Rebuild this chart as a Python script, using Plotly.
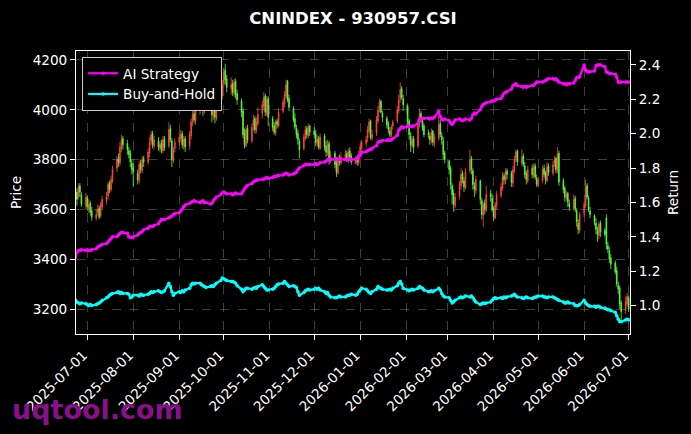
import pandas as pd
import plotly.graph_objects as go
from plotly.subplots import make_subplots

# Trading days (Mon-Fri)
dates = pd.bdate_range("2025-06-23", "2026-07-01")

open_ = [
    3640, 3670, 3650, 3695, 3660,
    3615, 3645, 3600, 3625, 3595,
    3565, 3590, 3605, 3575, 3610,
    3635, 3655, 3705, 3680, 3715,
    3765, 3805, 3785, 3845, 3885,
    3865, 3835, 3825, 3785, 3765,
    3745, 3715, 3785, 3755, 3805,
    3790, 3825, 3875, 3905, 3855,
    3875, 3845, 3865, 3835, 3885,
    3855, 3925, 3875, 3795, 3845,
    3870, 3885, 3905, 3855, 3885,
    3855, 3895, 3955, 3985, 3955,
    4000, 4015, 4055, 3995, 4065,
    4075, 4025, 3975, 4005, 3965,
    4025, 4055, 4105, 4160, 4125,
    4085, 4105, 4065, 4115, 4065,
    4035, 3995, 3905, 3855, 3925,
    3875, 3935, 3965, 3915, 3945,
    3985, 4015, 4055, 3985, 4045,
    3965, 3935, 3905, 3955, 3935,
    3995, 4025, 4055, 4115, 4045,
    4005, 3965, 3925, 3905, 3875,
    3845, 3885, 3925, 3895, 3935,
    3915, 3905, 3865, 3885, 3845,
    3895, 3855, 3825, 3865, 3795,
    3825, 3785, 3745, 3805, 3785,
    3805, 3825, 3795, 3835, 3815,
    3785, 3805, 3785, 3815, 3845,
    3865, 3885, 3915, 3955, 3885,
    3905, 3955, 4005, 4035, 3985,
    3965, 3945, 3915, 3895, 3935,
    3955, 3995, 4045, 4085, 4045,
    4015, 3955, 3895, 3855, 3885,
    3855, 3945, 3985, 3955, 3935,
    3905, 3895, 3875, 3915, 3865,
    3885, 3945, 3895, 3875, 3825,
    3795, 3765, 3695, 3665, 3615,
    3655, 3695, 3745, 3715, 3685,
    3755, 3805, 3755, 3695, 3675,
    3715, 3635, 3575, 3625, 3595,
    3665, 3645, 3605, 3565, 3615,
    3655, 3685, 3735, 3715, 3755,
    3745, 3705, 3755, 3805, 3835,
    3785, 3815, 3775, 3745, 3715,
    3765, 3735, 3775, 3725, 3695,
    3715, 3765, 3745, 3715, 3775,
    3745, 3785, 3805, 3755, 3825,
    3715, 3685, 3645, 3665, 3625,
    3605, 3645, 3595, 3545, 3515,
    3585, 3615, 3695, 3645, 3595,
    3575, 3545, 3515, 3495, 3545,
    3515, 3565, 3455, 3435, 3405,
    3385, 3355, 3295, 3285, 3225,
    3195, 3220, 3245,
]

high = [
    3690, 3685, 3705, 3705, 3670,
    3665, 3655, 3640, 3635, 3610,
    3600, 3620, 3615, 3630, 3655,
    3670, 3710, 3715, 3735, 3775,
    3815, 3825, 3870, 3900, 3895,
    3880, 3850, 3840, 3800, 3785,
    3760, 3795, 3800, 3815, 3815,
    3845, 3890, 3915, 3915, 3895,
    3890, 3875, 3880, 3895, 3895,
    3950, 3940, 3885, 3850, 3885,
    3910, 3920, 3915, 3895, 3895,
    3915, 3965, 3995, 3995, 4015,
    4040, 4070, 4065, 4075, 4105,
    4085, 4040, 4015, 4015, 4045,
    4075, 4120, 4170, 4185, 4140,
    4130, 4120, 4125, 4125, 4080,
    4045, 4005, 3925, 3935, 3940,
    3945, 3980, 3975, 3970, 4010,
    4035, 4070, 4065, 4055, 4055,
    3975, 3950, 3960, 3965, 4005,
    4045, 4075, 4120, 4120, 4060,
    4015, 3985, 3940, 3920, 3885,
    3905, 3935, 3935, 3945, 3940,
    3930, 3920, 3900, 3895, 3905,
    3905, 3875, 3880, 3875, 3835,
    3835, 3800, 3815, 3820, 3830,
    3840, 3835, 3845, 3850, 3825,
    3815, 3820, 3835, 3865, 3880,
    3895, 3935, 3965, 3960, 3920,
    3975, 4015, 4045, 4040, 3995,
    3975, 3955, 3930, 3940, 3960,
    4015, 4060, 4110, 4095, 4060,
    4025, 3965, 3910, 3895, 3895,
    3965, 4005, 3995, 3965, 3945,
    3920, 3910, 3925, 3920, 3905,
    3980, 3960, 3910, 3890, 3835,
    3800, 3775, 3705, 3680, 3665,
    3715, 3765, 3755, 3730, 3765,
    3840, 3815, 3765, 3710, 3735,
    3720, 3645, 3630, 3640, 3695,
    3680, 3660, 3615, 3630, 3675,
    3705, 3750, 3745, 3765, 3765,
    3755, 3775, 3815, 3840, 3840,
    3840, 3825, 3790, 3755, 3775,
    3780, 3785, 3785, 3740, 3730,
    3775, 3780, 3755, 3790, 3785,
    3795, 3815, 3810, 3850, 3835,
    3725, 3695, 3675, 3670, 3640,
    3660, 3655, 3605, 3560, 3590,
    3630, 3720, 3705, 3655, 3610,
    3580, 3565, 3530, 3550, 3555,
    3525, 3580, 3470, 3450, 3420,
    3395, 3370, 3310, 3295, 3235,
    3250, 3265, 3255,
]

low = [
    3625, 3615, 3640, 3650, 3610,
    3600, 3595, 3585, 3575, 3555,
    3555, 3575, 3560, 3565, 3600,
    3620, 3640, 3665, 3670, 3705,
    3750, 3770, 3775, 3830, 3840,
    3820, 3805, 3770, 3740, 3690,
    3700, 3705, 3745, 3745, 3770,
    3780, 3810, 3860, 3845, 3840,
    3835, 3830, 3825, 3825, 3835,
    3845, 3870, 3770, 3785, 3830,
    3855, 3870, 3845, 3840, 3830,
    3840, 3880, 3935, 3945, 3940,
    3980, 3995, 3975, 3985, 4040,
    4005, 3950, 3960, 3945, 3955,
    4010, 4040, 4090, 4100, 4070,
    4060, 4055, 4050, 4045, 4020,
    3970, 3885, 3845, 3850, 3865,
    3865, 3915, 3905, 3905, 3935,
    3965, 4000, 3975, 3975, 3935,
    3915, 3900, 3895, 3925, 3930,
    3985, 4010, 4045, 4030, 3995,
    3950, 3920, 3885, 3860, 3805,
    3835, 3875, 3885, 3885, 3895,
    3885, 3855, 3850, 3840, 3840,
    3835, 3810, 3815, 3780, 3785,
    3765, 3730, 3740, 3775, 3780,
    3795, 3790, 3785, 3800, 3780,
    3780, 3775, 3775, 3810, 3835,
    3850, 3870, 3905, 3880, 3875,
    3895, 3945, 3990, 3985, 3950,
    3925, 3905, 3890, 3890, 3920,
    3945, 3985, 4030, 4040, 3995,
    3935, 3880, 3830, 3845, 3825,
    3845, 3930, 3950, 3915, 3890,
    3885, 3860, 3865, 3855, 3850,
    3875, 3890, 3860, 3800, 3785,
    3740, 3680, 3620, 3590, 3605,
    3640, 3680, 3705, 3670, 3680,
    3745, 3740, 3680, 3650, 3660,
    3620, 3560, 3530, 3580, 3590,
    3630, 3590, 3555, 3560, 3600,
    3645, 3675, 3700, 3700, 3720,
    3690, 3690, 3745, 3790, 3775,
    3775, 3770, 3725, 3700, 3705,
    3725, 3725, 3720, 3690, 3690,
    3705, 3730, 3700, 3710, 3735,
    3735, 3770, 3745, 3745, 3695,
    3665, 3630, 3635, 3610, 3595,
    3595, 3590, 3530, 3500, 3505,
    3570, 3605, 3640, 3590, 3565,
    3535, 3500, 3470, 3480, 3490,
    3490, 3440, 3425, 3385, 3360,
    3340, 3290, 3260, 3200, 3155,
    3180, 3210, 3190,
]

close = [
    3660, 3640, 3690, 3670, 3620,
    3650, 3610, 3620, 3590, 3570,
    3580, 3600, 3570, 3620, 3640,
    3650, 3700, 3680, 3720, 3760,
    3800, 3790, 3850, 3880, 3860,
    3840, 3820, 3790, 3760, 3750,
    3720, 3780, 3760, 3800, 3790,
    3830, 3870, 3900, 3860, 3880,
    3850, 3860, 3840, 3880, 3850,
    3920, 3880, 3800, 3840, 3870,
    3890, 3900, 3860, 3880, 3850,
    3900, 3950, 3980, 3960, 4000,
    4010, 4050, 4000, 4060, 4080,
    4020, 3980, 4000, 3970, 4030,
    4060, 4100, 4150, 4120, 4090,
    4100, 4070, 4110, 4060, 4040,
    3990, 3900, 3860, 3920, 3880,
    3930, 3960, 3920, 3950, 3980,
    4020, 4050, 3990, 4040, 3970,
    3930, 3910, 3950, 3940, 3990,
    4030, 4060, 4100, 4040, 4010,
    3960, 3930, 3900, 3880, 3840,
    3890, 3920, 3900, 3930, 3910,
    3900, 3870, 3880, 3850, 3890,
    3850, 3830, 3860, 3800, 3820,
    3780, 3750, 3800, 3790, 3810,
    3820, 3800, 3830, 3810, 3790,
    3800, 3790, 3820, 3850, 3870,
    3880, 3920, 3950, 3890, 3900,
    3960, 4000, 4030, 3990, 3970,
    3940, 3920, 3900, 3930, 3950,
    4000, 4040, 4080, 4050, 4020,
    3950, 3900, 3860, 3880, 3850,
    3950, 3980, 3960, 3930, 3900,
    3900, 3880, 3910, 3870, 3890,
    3940, 3900, 3880, 3820, 3800,
    3760, 3700, 3660, 3620, 3650,
    3700, 3740, 3720, 3690, 3750,
    3800, 3760, 3700, 3680, 3720,
    3640, 3580, 3620, 3600, 3660,
    3650, 3600, 3570, 3620, 3660,
    3690, 3730, 3720, 3750, 3740,
    3710, 3760, 3800, 3830, 3790,
    3810, 3780, 3740, 3720, 3760,
    3740, 3770, 3730, 3700, 3720,
    3760, 3740, 3720, 3770, 3750,
    3780, 3800, 3760, 3820, 3710,
    3680, 3650, 3660, 3630, 3610,
    3640, 3600, 3550, 3520, 3580,
    3620, 3690, 3650, 3600, 3580,
    3550, 3520, 3500, 3540, 3510,
    3500, 3460, 3440, 3400, 3380,
    3350, 3300, 3280, 3220, 3190,
    3230, 3250, 3200,
]

ai_strategy = [
    1.28, 1.31, 1.32, 1.32, 1.325,
    1.32, 1.325, 1.32, 1.32, 1.325,
    1.33, 1.34, 1.345, 1.35, 1.355,
    1.36, 1.37, 1.38, 1.39, 1.40,
    1.40, 1.41, 1.42, 1.425, 1.425,
    1.42, 1.40, 1.395, 1.395, 1.40,
    1.41, 1.42, 1.425, 1.43, 1.44,
    1.45, 1.46, 1.46, 1.46, 1.465,
    1.475, 1.49, 1.50, 1.50, 1.50,
    1.51, 1.515, 1.52, 1.53, 1.535,
    1.54, 1.55, 1.56, 1.575, 1.585,
    1.595, 1.60, 1.605, 1.61, 1.605,
    1.60, 1.605, 1.61, 1.60, 1.60,
    1.59, 1.595, 1.61, 1.62, 1.63,
    1.645, 1.655, 1.66, 1.655, 1.65,
    1.65, 1.645, 1.65, 1.655, 1.65,
    1.65, 1.665, 1.68, 1.69, 1.70,
    1.71, 1.72, 1.725, 1.73, 1.73,
    1.735, 1.735, 1.74, 1.745, 1.74,
    1.745, 1.75, 1.75, 1.755, 1.755,
    1.76, 1.765, 1.77, 1.765, 1.76,
    1.765, 1.77, 1.775, 1.79, 1.80,
    1.815, 1.82, 1.82, 1.82, 1.82,
    1.82, 1.825, 1.82, 1.825, 1.83,
    1.835, 1.84, 1.85, 1.845, 1.85,
    1.85, 1.855, 1.85, 1.85, 1.85,
    1.85, 1.85, 1.855, 1.85, 1.85,
    1.85, 1.855, 1.86, 1.875, 1.89,
    1.895, 1.90, 1.905, 1.91, 1.91,
    1.93, 1.95, 1.955, 1.955, 1.96,
    1.96, 1.965, 1.96, 1.965, 1.97,
    1.99, 2.02, 2.03, 2.04, 2.035,
    2.04, 2.04, 2.045, 2.04, 2.045,
    2.06, 2.08, 2.085, 2.09, 2.09,
    2.09, 2.085, 2.09, 2.09, 2.095,
    2.13, 2.10, 2.085, 2.08, 2.085,
    2.075, 2.06, 2.055, 2.065, 2.08,
    2.085, 2.08, 2.075, 2.08, 2.085,
    2.08, 2.09, 2.11, 2.12, 2.115,
    2.14, 2.16, 2.17, 2.175, 2.18,
    2.185, 2.19, 2.19, 2.195, 2.20,
    2.205, 2.22, 2.235, 2.24, 2.245,
    2.26, 2.28, 2.285, 2.29, 2.28,
    2.275, 2.27, 2.275, 2.27, 2.275,
    2.28, 2.28, 2.29, 2.30, 2.30,
    2.30, 2.305, 2.31, 2.315, 2.32,
    2.32, 2.315, 2.32, 2.31, 2.30,
    2.29, 2.29, 2.285, 2.29, 2.29,
    2.295, 2.31, 2.325, 2.33, 2.33,
    2.40, 2.37, 2.36, 2.36, 2.36,
    2.365, 2.395, 2.40, 2.40, 2.40,
    2.39, 2.36, 2.355, 2.35, 2.35,
    2.345, 2.33, 2.30, 2.30, 2.30,
    2.30, 2.30, 2.30,
]

buy_and_hold = [
    1.03, 1.02, 1.015, 1.01, 1.015,
    1.01, 1.005, 1.0, 1.005, 1.0,
    1.005, 1.01, 1.015, 1.02, 1.03,
    1.045, 1.05, 1.06, 1.065, 1.07,
    1.075, 1.08, 1.07, 1.075, 1.07,
    1.07, 1.065, 1.045, 1.05, 1.06,
    1.06, 1.055, 1.065, 1.06, 1.06,
    1.065, 1.07, 1.08, 1.075, 1.08,
    1.085, 1.08, 1.075, 1.08, 1.085,
    1.13, 1.11, 1.08, 1.06, 1.07,
    1.08, 1.075, 1.085, 1.08, 1.09,
    1.10, 1.12, 1.13, 1.125, 1.13,
    1.13, 1.12, 1.115, 1.11, 1.105,
    1.11, 1.115, 1.11, 1.12, 1.13,
    1.145, 1.16, 1.155, 1.15, 1.145,
    1.14, 1.14, 1.135, 1.13, 1.115,
    1.095, 1.08, 1.09, 1.10, 1.10,
    1.095, 1.10, 1.105, 1.10, 1.11,
    1.12, 1.11, 1.10, 1.09, 1.09,
    1.095, 1.10, 1.11, 1.12, 1.125,
    1.13, 1.14, 1.13, 1.12, 1.11,
    1.115, 1.11, 1.105, 1.08, 1.06,
    1.075, 1.085, 1.09, 1.095, 1.09,
    1.095, 1.10, 1.095, 1.10, 1.09,
    1.08, 1.07, 1.075, 1.06, 1.05,
    1.045, 1.045, 1.05, 1.055, 1.05,
    1.05, 1.055, 1.06, 1.06, 1.065,
    1.06, 1.065, 1.08, 1.09, 1.10,
    1.095, 1.085, 1.075, 1.07, 1.08,
    1.095, 1.11, 1.105, 1.10, 1.095,
    1.09, 1.09, 1.095, 1.09, 1.10,
    1.115, 1.13, 1.14, 1.125, 1.10,
    1.09, 1.085, 1.09, 1.095, 1.09,
    1.10, 1.11, 1.105, 1.10, 1.09,
    1.08, 1.08, 1.085, 1.08, 1.085,
    1.10, 1.09, 1.07, 1.055, 1.05,
    1.045, 1.03, 1.015, 1.02, 1.03,
    1.045, 1.05, 1.045, 1.05, 1.055,
    1.05, 1.055, 1.045, 1.03, 1.02,
    1.005, 1.01, 1.015, 1.012, 1.015,
    1.02, 1.03, 1.04, 1.045, 1.04,
    1.045, 1.04, 1.05, 1.045, 1.05,
    1.055, 1.06, 1.065, 1.055, 1.05,
    1.045, 1.04, 1.045, 1.05, 1.045,
    1.04, 1.045, 1.05, 1.05, 1.055,
    1.055, 1.05, 1.05, 1.045, 1.05,
    1.05, 1.045, 1.04, 1.035, 1.03,
    1.02, 1.015, 1.015, 1.02, 1.015,
    1.01, 1.0, 0.998, 1.0, 1.005,
    1.03, 1.015, 1.005, 1.0, 0.995,
    0.995, 0.99, 0.995, 0.995, 0.99,
    0.985, 0.98, 0.975, 0.975, 0.97,
    0.96, 0.94, 0.92, 0.907, 0.905,
    0.915, 0.92, 0.917,
]

month_ticks = pd.date_range("2025-07-01", "2026-07-01", freq="MS")

FONT = "DejaVu Sans"
WHITE = "#ffffff"
FS = 13.6

fig = make_subplots(specs=[[{"secondary_y": True}]])

fig.add_trace(go.Candlestick(
    x=dates, open=open_, high=high, low=low, close=close,
    increasing=dict(line=dict(color="#ff4a3d", width=0.8), fillcolor="#ff4a3d"),
    decreasing=dict(line=dict(color="#5cff3a", width=0.8), fillcolor="#5cff3a"),
    whiskerwidth=0,
    showlegend=False, hoverinfo="skip", name="Price",
), secondary_y=False)

fig.add_trace(go.Scatter(
    x=dates, y=ai_strategy, mode="lines+markers", name="AI Strategy",
    line=dict(color="#ff00ff", width=2.2), marker=dict(size=3.5, color="#ff00ff"),
), secondary_y=True)

fig.add_trace(go.Scatter(
    x=dates, y=buy_and_hold, mode="lines+markers", name="Buy-and-Hold",
    line=dict(color="#00ffff", width=2.2), marker=dict(size=3.5, color="#00ffff"),
), secondary_y=True)

fig.update_layout(
    width=691, height=434,
    margin=dict(l=76, r=61, t=51, b=100, autoexpand=False),
    paper_bgcolor="#000000", plot_bgcolor="#000000",
    font=dict(family=FONT, size=FS, color=WHITE),
    title=dict(text="<b>CNINDEX - 930957.CSI</b>", x=0.5, xref="paper",
               y=1 - 18 / 434, yref="container", xanchor="center", yanchor="middle",
               font=dict(family=FONT, size=16.5, color=WHITE)),
    showlegend=True,
    legend=dict(x=0.011, y=0.979, xanchor="left", yanchor="top",
                bgcolor="#000000", bordercolor="#cccccc", borderwidth=1,
                font=dict(family=FONT, size=FS, color=WHITE),
                itemwidth=30, tracegroupgap=2),
    xaxis=dict(
        domain=[0, 1],
        type="date", range=["2025-06-23 09:00", "2026-07-01 22:30"],
        rangeslider=dict(visible=False),
        tickvals=month_ticks, tickformat="%Y-%m-%d", tickangle=-45,
        ticks="outside", ticklen=5, tickcolor=WHITE, tickwidth=1,
        ticklabelshift=-4, ticklabelstandoff=2,
        showline=True, linecolor=WHITE, linewidth=1, mirror=True,
        showgrid=True, gridcolor="rgba(140,140,140,0.45)", griddash="dash", gridwidth=0.7,
        zeroline=False, tickfont=dict(size=FS, color=WHITE), automargin=False,
    ),
    yaxis=dict(
        range=[3099.7, 4236], tickvals=[3200, 3400, 3600, 3800, 4000, 4200],
        ticks="outside", ticklen=5, tickcolor=WHITE, tickwidth=1,
        showline=True, linecolor=WHITE, linewidth=1,
        showgrid=True, gridcolor="rgba(140,140,140,0.45)", griddash="dash", gridwidth=0.7,
        zeroline=False, tickfont=dict(size=FS, color=WHITE),
        title=dict(text="Price", standoff=7, font=dict(size=FS)),
        automargin=False,
    ),
    yaxis2=dict(
        range=[0.834, 2.481], tickvals=[1.0, 1.2, 1.4, 1.6, 1.8, 2.0, 2.2, 2.4],
        tickformat=".1f",
        ticks="outside", ticklen=5, tickcolor=WHITE, tickwidth=1,
        showline=True, linecolor=WHITE, linewidth=1,
        showgrid=False, zeroline=False, tickfont=dict(size=FS, color=WHITE),
        title=dict(text="Return", standoff=9, font=dict(size=FS)),
        automargin=False,
    ),
)

fig.add_annotation(
    text="<b>uqtool.com</b>", xref="paper", yref="paper",
    x=(10 - 76) / 554, y=(334 - 409) / 283, xanchor="left", yanchor="middle",
    showarrow=False, font=dict(family=FONT, size=27, color="#8a0f8a"),
)

page_fix = (
    "document.body.style.margin='0';"
    "document.body.style.padding='0';"
    "document.body.style.overflow='hidden';"
    "document.body.style.background='#000';"
)

fig.write_html("out.html", config={"responsive": False, "displayModeBar": False},
               post_script=page_fix)
